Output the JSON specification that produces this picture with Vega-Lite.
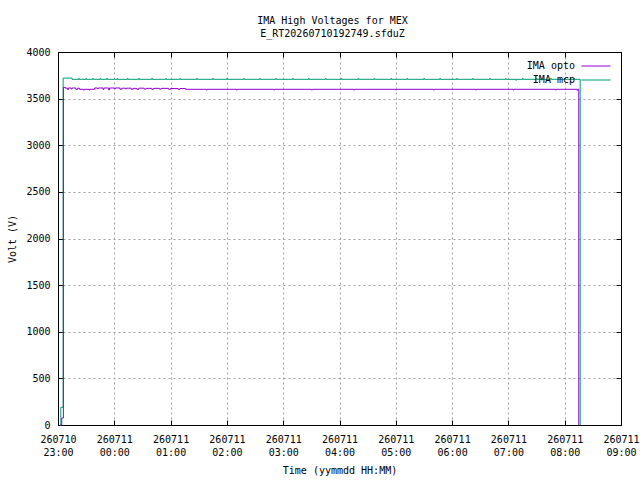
{
  "$schema": "https://vega.github.io/schema/vega-lite/v6.json",
  "autosize": {"type": "none"},
  "padding": {"left": 58, "top": 52, "right": 19, "bottom": 55},
  "width": 563,
  "height": 373,
  "background": "white",
  "title": {
    "text": ["IMA High Voltages for MEX", "E_RT20260710192749.sfduZ"],
    "font": "DejaVu Sans Mono",
    "fontSize": 10,
    "fontWeight": "normal",
    "lineHeight": 13,
    "color": "black",
    "anchor": "middle",
    "dx": -7,
    "offset": 8
  },
  "data": {
    "values": [
      {"t": "2026-07-10T23:02:00Z", "s": "IMA mcp", "v": 0},
      {"t": "2026-07-10T23:03:00Z", "s": "IMA mcp", "v": 190},
      {"t": "2026-07-10T23:05:30Z", "s": "IMA mcp", "v": 3720},
      {"t": "2026-07-10T23:15:00Z", "s": "IMA mcp", "v": 3707},
      {"t": "2026-07-10T23:22:00Z", "s": "IMA mcp", "v": 3717},
      {"t": "2026-07-10T23:22:30Z", "s": "IMA mcp", "v": 3707},
      {"t": "2026-07-10T23:30:00Z", "s": "IMA mcp", "v": 3717},
      {"t": "2026-07-10T23:30:30Z", "s": "IMA mcp", "v": 3707},
      {"t": "2026-07-10T23:37:00Z", "s": "IMA mcp", "v": 3717},
      {"t": "2026-07-10T23:37:30Z", "s": "IMA mcp", "v": 3707},
      {"t": "2026-07-10T23:45:00Z", "s": "IMA mcp", "v": 3717},
      {"t": "2026-07-10T23:45:30Z", "s": "IMA mcp", "v": 3707},
      {"t": "2026-07-10T23:52:00Z", "s": "IMA mcp", "v": 3717},
      {"t": "2026-07-10T23:52:30Z", "s": "IMA mcp", "v": 3707},
      {"t": "2026-07-11T00:03:00Z", "s": "IMA mcp", "v": 3717},
      {"t": "2026-07-11T00:03:30Z", "s": "IMA mcp", "v": 3707},
      {"t": "2026-07-11T00:14:00Z", "s": "IMA mcp", "v": 3717},
      {"t": "2026-07-11T00:14:30Z", "s": "IMA mcp", "v": 3707},
      {"t": "2026-07-11T00:26:00Z", "s": "IMA mcp", "v": 3717},
      {"t": "2026-07-11T00:26:30Z", "s": "IMA mcp", "v": 3707},
      {"t": "2026-07-11T00:40:00Z", "s": "IMA mcp", "v": 3717},
      {"t": "2026-07-11T00:40:30Z", "s": "IMA mcp", "v": 3707},
      {"t": "2026-07-11T00:55:00Z", "s": "IMA mcp", "v": 3717},
      {"t": "2026-07-11T00:55:30Z", "s": "IMA mcp", "v": 3707},
      {"t": "2026-07-11T01:10:00Z", "s": "IMA mcp", "v": 3717},
      {"t": "2026-07-11T01:10:30Z", "s": "IMA mcp", "v": 3707},
      {"t": "2026-07-11T01:28:00Z", "s": "IMA mcp", "v": 3717},
      {"t": "2026-07-11T01:28:30Z", "s": "IMA mcp", "v": 3707},
      {"t": "2026-07-11T01:45:00Z", "s": "IMA mcp", "v": 3717},
      {"t": "2026-07-11T01:45:30Z", "s": "IMA mcp", "v": 3707},
      {"t": "2026-07-11T02:00:00Z", "s": "IMA mcp", "v": 3717},
      {"t": "2026-07-11T02:00:30Z", "s": "IMA mcp", "v": 3707},
      {"t": "2026-07-11T02:18:00Z", "s": "IMA mcp", "v": 3717},
      {"t": "2026-07-11T02:18:30Z", "s": "IMA mcp", "v": 3707},
      {"t": "2026-07-11T02:35:00Z", "s": "IMA mcp", "v": 3717},
      {"t": "2026-07-11T02:35:30Z", "s": "IMA mcp", "v": 3707},
      {"t": "2026-07-11T02:52:00Z", "s": "IMA mcp", "v": 3717},
      {"t": "2026-07-11T02:52:30Z", "s": "IMA mcp", "v": 3707},
      {"t": "2026-07-11T03:10:00Z", "s": "IMA mcp", "v": 3717},
      {"t": "2026-07-11T03:10:30Z", "s": "IMA mcp", "v": 3707},
      {"t": "2026-07-11T03:27:00Z", "s": "IMA mcp", "v": 3717},
      {"t": "2026-07-11T03:27:30Z", "s": "IMA mcp", "v": 3707},
      {"t": "2026-07-11T03:45:00Z", "s": "IMA mcp", "v": 3717},
      {"t": "2026-07-11T03:45:30Z", "s": "IMA mcp", "v": 3707},
      {"t": "2026-07-11T04:02:00Z", "s": "IMA mcp", "v": 3717},
      {"t": "2026-07-11T04:02:30Z", "s": "IMA mcp", "v": 3707},
      {"t": "2026-07-11T04:20:00Z", "s": "IMA mcp", "v": 3717},
      {"t": "2026-07-11T04:20:30Z", "s": "IMA mcp", "v": 3707},
      {"t": "2026-07-11T04:37:00Z", "s": "IMA mcp", "v": 3717},
      {"t": "2026-07-11T04:37:30Z", "s": "IMA mcp", "v": 3707},
      {"t": "2026-07-11T04:55:00Z", "s": "IMA mcp", "v": 3717},
      {"t": "2026-07-11T04:55:30Z", "s": "IMA mcp", "v": 3707},
      {"t": "2026-07-11T05:12:00Z", "s": "IMA mcp", "v": 3717},
      {"t": "2026-07-11T05:12:30Z", "s": "IMA mcp", "v": 3707},
      {"t": "2026-07-11T05:30:00Z", "s": "IMA mcp", "v": 3717},
      {"t": "2026-07-11T05:30:30Z", "s": "IMA mcp", "v": 3707},
      {"t": "2026-07-11T05:47:00Z", "s": "IMA mcp", "v": 3717},
      {"t": "2026-07-11T05:47:30Z", "s": "IMA mcp", "v": 3707},
      {"t": "2026-07-11T06:05:00Z", "s": "IMA mcp", "v": 3717},
      {"t": "2026-07-11T06:05:30Z", "s": "IMA mcp", "v": 3707},
      {"t": "2026-07-11T06:22:00Z", "s": "IMA mcp", "v": 3717},
      {"t": "2026-07-11T06:22:30Z", "s": "IMA mcp", "v": 3707},
      {"t": "2026-07-11T06:40:00Z", "s": "IMA mcp", "v": 3717},
      {"t": "2026-07-11T06:40:30Z", "s": "IMA mcp", "v": 3707},
      {"t": "2026-07-11T06:57:00Z", "s": "IMA mcp", "v": 3717},
      {"t": "2026-07-11T06:57:30Z", "s": "IMA mcp", "v": 3707},
      {"t": "2026-07-11T07:08:00Z", "s": "IMA mcp", "v": 3696},
      {"t": "2026-07-11T07:08:30Z", "s": "IMA mcp", "v": 3707},
      {"t": "2026-07-11T07:15:00Z", "s": "IMA mcp", "v": 3717},
      {"t": "2026-07-11T07:15:30Z", "s": "IMA mcp", "v": 3707},
      {"t": "2026-07-11T07:30:00Z", "s": "IMA mcp", "v": 3717},
      {"t": "2026-07-11T07:30:30Z", "s": "IMA mcp", "v": 3707},
      {"t": "2026-07-11T07:45:00Z", "s": "IMA mcp", "v": 3717},
      {"t": "2026-07-11T07:45:30Z", "s": "IMA mcp", "v": 3707},
      {"t": "2026-07-11T08:00:00Z", "s": "IMA mcp", "v": 3717},
      {"t": "2026-07-11T08:00:30Z", "s": "IMA mcp", "v": 3707},
      {"t": "2026-07-11T08:10:00Z", "s": "IMA mcp", "v": 3717},
      {"t": "2026-07-11T08:10:30Z", "s": "IMA mcp", "v": 3707},
      {"t": "2026-07-11T08:16:30Z", "s": "IMA mcp", "v": 0},
      {"t": "2026-07-10T23:02:30Z", "s": "IMA opto", "v": 0},
      {"t": "2026-07-10T23:04:00Z", "s": "IMA opto", "v": 75},
      {"t": "2026-07-10T23:05:45Z", "s": "IMA opto", "v": 3620},
      {"t": "2026-07-10T23:08:00Z", "s": "IMA opto", "v": 3612},
      {"t": "2026-07-10T23:10:00Z", "s": "IMA opto", "v": 3598},
      {"t": "2026-07-10T23:11:00Z", "s": "IMA opto", "v": 3614},
      {"t": "2026-07-10T23:14:00Z", "s": "IMA opto", "v": 3604},
      {"t": "2026-07-10T23:15:00Z", "s": "IMA opto", "v": 3614},
      {"t": "2026-07-10T23:19:00Z", "s": "IMA opto", "v": 3600},
      {"t": "2026-07-10T23:21:00Z", "s": "IMA opto", "v": 3612},
      {"t": "2026-07-10T23:23:00Z", "s": "IMA opto", "v": 3600},
      {"t": "2026-07-10T23:27:00Z", "s": "IMA opto", "v": 3592},
      {"t": "2026-07-10T23:28:00Z", "s": "IMA opto", "v": 3600},
      {"t": "2026-07-10T23:33:00Z", "s": "IMA opto", "v": 3592},
      {"t": "2026-07-10T23:34:00Z", "s": "IMA opto", "v": 3600},
      {"t": "2026-07-10T23:39:00Z", "s": "IMA opto", "v": 3614},
      {"t": "2026-07-10T23:42:00Z", "s": "IMA opto", "v": 3606},
      {"t": "2026-07-10T23:43:00Z", "s": "IMA opto", "v": 3614},
      {"t": "2026-07-10T23:48:00Z", "s": "IMA opto", "v": 3600},
      {"t": "2026-07-10T23:49:00Z", "s": "IMA opto", "v": 3614},
      {"t": "2026-07-10T23:54:00Z", "s": "IMA opto", "v": 3594},
      {"t": "2026-07-10T23:55:00Z", "s": "IMA opto", "v": 3614},
      {"t": "2026-07-11T00:00:00Z", "s": "IMA opto", "v": 3604},
      {"t": "2026-07-11T00:01:00Z", "s": "IMA opto", "v": 3614},
      {"t": "2026-07-11T00:06:00Z", "s": "IMA opto", "v": 3600},
      {"t": "2026-07-11T00:08:00Z", "s": "IMA opto", "v": 3612},
      {"t": "2026-07-11T00:12:00Z", "s": "IMA opto", "v": 3604},
      {"t": "2026-07-11T00:13:00Z", "s": "IMA opto", "v": 3612},
      {"t": "2026-07-11T00:18:00Z", "s": "IMA opto", "v": 3600},
      {"t": "2026-07-11T00:20:00Z", "s": "IMA opto", "v": 3610},
      {"t": "2026-07-11T00:24:00Z", "s": "IMA opto", "v": 3600},
      {"t": "2026-07-11T00:26:00Z", "s": "IMA opto", "v": 3612},
      {"t": "2026-07-11T00:32:00Z", "s": "IMA opto", "v": 3602},
      {"t": "2026-07-11T00:34:00Z", "s": "IMA opto", "v": 3610},
      {"t": "2026-07-11T00:40:00Z", "s": "IMA opto", "v": 3600},
      {"t": "2026-07-11T00:42:00Z", "s": "IMA opto", "v": 3610},
      {"t": "2026-07-11T00:48:00Z", "s": "IMA opto", "v": 3602},
      {"t": "2026-07-11T00:50:00Z", "s": "IMA opto", "v": 3610},
      {"t": "2026-07-11T00:58:00Z", "s": "IMA opto", "v": 3600},
      {"t": "2026-07-11T01:00:00Z", "s": "IMA opto", "v": 3608},
      {"t": "2026-07-11T01:08:00Z", "s": "IMA opto", "v": 3600},
      {"t": "2026-07-11T01:10:00Z", "s": "IMA opto", "v": 3608},
      {"t": "2026-07-11T01:16:00Z", "s": "IMA opto", "v": 3600},
      {"t": "2026-07-11T01:38:00Z", "s": "IMA opto", "v": 3592},
      {"t": "2026-07-11T01:39:00Z", "s": "IMA opto", "v": 3600},
      {"t": "2026-07-11T02:10:00Z", "s": "IMA opto", "v": 3592},
      {"t": "2026-07-11T02:11:00Z", "s": "IMA opto", "v": 3600},
      {"t": "2026-07-11T02:50:00Z", "s": "IMA opto", "v": 3593},
      {"t": "2026-07-11T02:51:00Z", "s": "IMA opto", "v": 3600},
      {"t": "2026-07-11T03:30:00Z", "s": "IMA opto", "v": 3593},
      {"t": "2026-07-11T03:31:00Z", "s": "IMA opto", "v": 3600},
      {"t": "2026-07-11T04:15:00Z", "s": "IMA opto", "v": 3593},
      {"t": "2026-07-11T04:16:00Z", "s": "IMA opto", "v": 3600},
      {"t": "2026-07-11T05:00:00Z", "s": "IMA opto", "v": 3593},
      {"t": "2026-07-11T05:01:00Z", "s": "IMA opto", "v": 3600},
      {"t": "2026-07-11T05:40:00Z", "s": "IMA opto", "v": 3593},
      {"t": "2026-07-11T05:41:00Z", "s": "IMA opto", "v": 3600},
      {"t": "2026-07-11T06:25:00Z", "s": "IMA opto", "v": 3593},
      {"t": "2026-07-11T06:26:00Z", "s": "IMA opto", "v": 3600},
      {"t": "2026-07-11T07:05:00Z", "s": "IMA opto", "v": 3593},
      {"t": "2026-07-11T07:06:00Z", "s": "IMA opto", "v": 3600},
      {"t": "2026-07-11T07:50:00Z", "s": "IMA opto", "v": 3593},
      {"t": "2026-07-11T07:51:00Z", "s": "IMA opto", "v": 3600},
      {"t": "2026-07-11T08:13:00Z", "s": "IMA opto", "v": 3590},
      {"t": "2026-07-11T08:14:00Z", "s": "IMA opto", "v": 3600},
      {"t": "2026-07-11T08:15:00Z", "s": "IMA opto", "v": 0}
    ]
  },
  "layer": [
    {
      "mark": {"type": "line", "interpolate": "step-after", "strokeWidth": 1},
      "encoding": {
        "x": {
          "field": "t",
          "type": "temporal",
          "scale": {
            "type": "utc",
            "nice": false,
            "domain": [1783724400000, 1783760400000]
          },
          "axis": {
            "orient": "bottom",
            "title": "Time (yymmdd HH:MM)",
            "values": [1783724400000, 1783728000000, 1783731600000, 1783735200000, 1783738800000, 1783742400000, 1783746000000, 1783749600000, 1783753200000, 1783756800000, 1783760400000],
            "labelExpr": "[utcFormat(datum.value, '%y%m%d'), utcFormat(datum.value, '%H:%M')]",
            "labelLineHeight": 13,
            "labelPadding": 14,
            "titlePadding": 8,
            "grid": true
          }
        },
        "y": {
          "field": "v",
          "type": "quantitative",
          "scale": {"domain": [0, 4000], "nice": false},
          "axis": {
            "orient": "left",
            "title": "Volt (V)",
            "format": "d",
            "values": [0, 500, 1000, 1500, 2000, 2500, 3000, 3500, 4000],
            "labelPadding": 13,
            "titlePadding": 8,
            "grid": true
          }
        },
        "color": {
          "field": "s",
          "type": "nominal",
          "scale": {"domain": ["IMA opto", "IMA mcp"], "range": ["#9400d3", "#009e73"]},
          "legend": {
            "title": null,
            "orient": "none",
            "legendX": 529,
            "legendY": 5,
            "padding": 0,
            "symbolType": "M-1.75,0H1.75",
            "symbolSize": 276,
            "symbolStrokeWidth": 1,
            "labelAlign": "right",
            "labelOffset": -30,
            "labelFont": "DejaVu Sans Mono",
            "labelFontSize": 10,
            "labelColor": "black",
            "rowPadding": 0
          }
        }
      }
    },
    {
      "mark": {"type": "line", "opacity": 0},
      "encoding": {
        "x": {
          "field": "t",
          "type": "temporal",
          "axis": {
            "orient": "top",
            "title": null,
            "labels": false,
            "grid": false,
            "values": [1783724400000, 1783728000000, 1783731600000, 1783735200000, 1783738800000, 1783742400000, 1783746000000, 1783749600000, 1783753200000, 1783756800000, 1783760400000]
          }
        },
        "y": {
          "field": "v",
          "type": "quantitative",
          "axis": {
            "orient": "right",
            "title": null,
            "labels": false,
            "grid": false,
            "values": [0, 500, 1000, 1500, 2000, 2500, 3000, 3500, 4000]
          }
        }
      }
    }
  ],
  "resolve": {"axis": {"x": "independent", "y": "independent"}},
  "config": {
    "view": {"stroke": "black", "strokeWidth": 1},
    "axis": {
      "domainColor": "black",
      "tickColor": "black",
      "tickSize": -5,
      "labelFont": "DejaVu Sans Mono",
      "labelFontSize": 10,
      "labelColor": "black",
      "labelFlush": false,
      "labelOverlap": false,
      "titleFont": "DejaVu Sans Mono",
      "titleFontSize": 10,
      "titleFontWeight": "normal",
      "titleColor": "black",
      "gridColor": "#a0a0a0",
      "gridDash": [2, 3],
      "gridWidth": 1,
      "gridOpacity": 1
    }
  }
}
